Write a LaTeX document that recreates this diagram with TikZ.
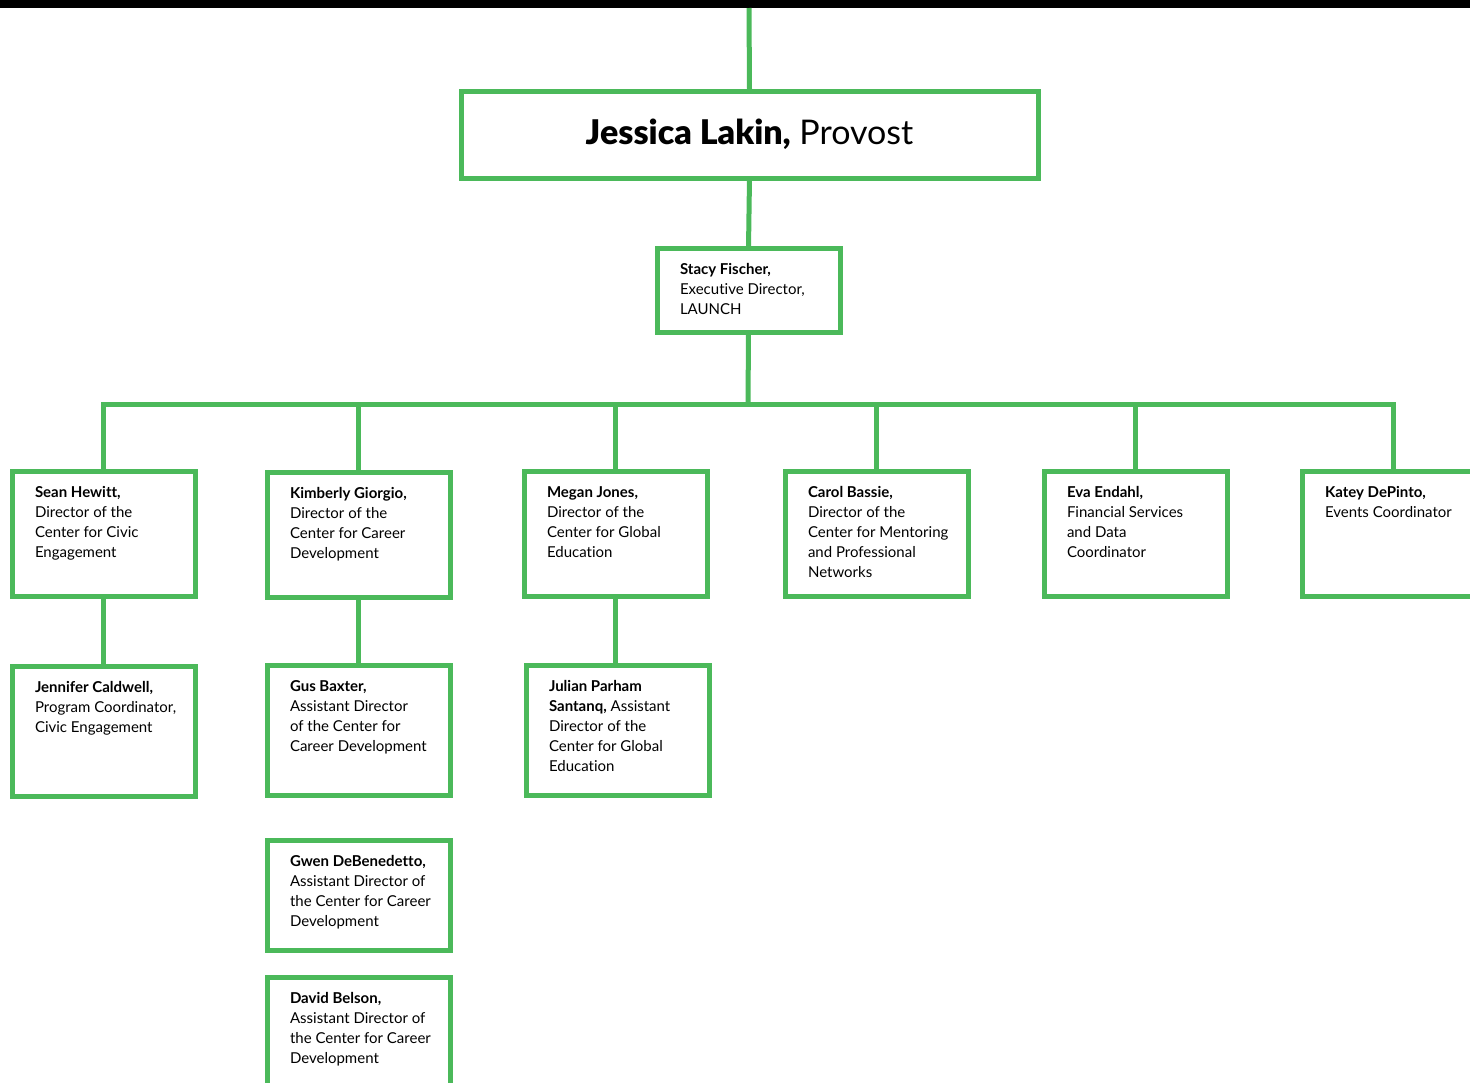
\documentclass[tikz,border=0pt]{standalone}
\usepackage{fontspec}
\setmainfont{Lato}[Ligatures=NoCommon]
\newfontface\heavyface{Lato Black}[Ligatures=NoCommon]
\usetikzlibrary{positioning}
\definecolor{lgreen}{RGB}{75,185,90}
% left-aligned lines of a card, fixed width
\newcommand{\cardlines}[1]{\makebox[68.5pt][l]{\begin{tabular}[t]{@{}l@{}}#1\end{tabular}}}

\begin{document}
\begin{tikzpicture}[x=0.5pt,y=-0.5pt,
  link/.style={draw=lgreen,line width=2.5pt},
  card/.style={draw=lgreen,line width=2.5pt,fill=white,anchor=north west,
    outer sep=0pt,inner xsep=11.5pt,inner ysep=0pt,minimum width=91.5pt,
    text height=13pt,text depth=#1,font=\fontsize{7.5pt}{10pt}\selectfont},
  card/.default=49.5pt]
\useasboundingbox (0,0) rectangle (1470,1082);
\fill[black] (0,0) rectangle (1470,8);

% Provost and executive director
\node[draw=lgreen,line width=2.5pt,outer sep=0pt,inner sep=0pt,anchor=north west,
  minimum width=288.5pt,minimum height=43.5pt] (lakin) at (461,91)
  {\fontsize{17pt}{20pt}\selectfont{\heavyface Jessica Lakin,} Provost};
\node[card=29pt] (fischer) at (657,248)
  {\cardlines{\textbf{Stacy Fischer,}\\Executive Director,\\LAUNCH}};

% Row 1: directors and coordinators
\node[card] (hewitt) at (12,471)
  {\cardlines{\textbf{Sean Hewitt,}\\Director of the\\Center for Civic\\Engagement}};
\node[card] (giorgio) at (267,472)
  {\cardlines{\textbf{Kimberly Giorgio,}\\Director of the\\Center for Career\\Development}};
\node[card] (jones) at (524,471)
  {\cardlines{\textbf{Megan Jones,}\\Director of the\\Center for Global\\Education}};
\node[card] (bassie) at (785,471)
  {\cardlines{\textbf{Carol Bassie,}\\Director of the\\Center for Mentoring\\and Professional\\Networks}};
\node[card] (endahl) at (1044,471)
  {\cardlines{\textbf{Eva Endahl,}\\Financial Services\\and Data\\Coordinator}};
\node[card] (depinto) at (1302,471)
  {\cardlines{\textbf{Katey DePinto,}\\Events Coordinator}};

% Row 2: staff under directors
\node[card=52pt] (caldwell) at (12,666)
  {\cardlines{\textbf{Jennifer Caldwell,}\\Program Coordinator,\\Civic Engagement}};
\node[card=52pt] (baxter) at (267,665)
  {\cardlines{\textbf{Gus Baxter,}\\Assistant Director\\of the Center for\\Career Development}};
\node[card=52pt] (santanq) at (526,665)
  {\cardlines{\textbf{Julian Parham}\\\textbf{Santanq,} Assistant\\Director of the\\Center for Global\\Education}};
\node[card=42pt] (debenedetto) at (267,840)
  {\cardlines{\textbf{Gwen DeBenedetto,}\\Assistant Director of\\the Center for Career\\Development}};
\node[card=50pt] (belson) at (267,977)
  {\cardlines{\textbf{David Belson,}\\Assistant Director of\\the Center for Career\\Development}};

% Connectors
\coordinate (topend) at (749,8);
\coordinate (bus) at (748,404);
\draw[link] (topend) -- (lakin.north);
\draw[link] (lakin.south) -- (fischer.north);
\draw[link] (fischer.south) -- (bus);
\foreach \n in {hewitt,giorgio,jones,bassie,endahl,depinto}
  \draw[link] (bus) -| (\n.north);
\draw[link] (hewitt.south) -- (caldwell.north);
\draw[link] (giorgio.south) -- (baxter.north);
\draw[link] (jones.south) -- (jones.south |- santanq.north);
\end{tikzpicture}
\end{document}
